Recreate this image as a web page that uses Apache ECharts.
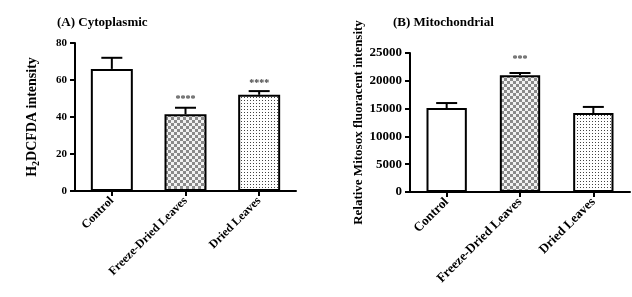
<!DOCTYPE html>
<html>
<head>
<meta charset="utf-8">
<script src="https://cdn.jsdelivr.net/npm/echarts@6/dist/echarts.min.js"></script>
<style>
html,body{margin:0;padding:0;background:#fff;}
#charts{width:632px;height:297px;}
</style>
</head>
<body>
<div id="charts"></div>
<script>
var categories = ['Control', 'Freeze-Dried Leaves', 'Dried Leaves'];
// (A) Cytoplasmic
var cytoMean = [66, 41.5, 52];
var cytoErr = [72, 45, 54];
var cytoSig = ['', '****', '****'];
// (B) Mitochondrial
var mitoMean = [15100, 21000, 14200];
var mitoErr = [16000, 21400, 15300];
var mitoSig = ['', '***', ''];

var FONT = 'Liberation Serif';

//棋盘格填充
function checkerPattern(){
	var c = document.createElement('canvas');
	c.width = 6; c.height = 6;
	var ctx = c.getContext('2d');
	ctx.fillStyle = '#f2f2f2';
	ctx.fillRect(0, 0, 6, 6);
	ctx.fillStyle = '#8a8a8a';
	ctx.fillRect(0, 0, 3, 3);
	ctx.fillRect(3, 3, 3, 3);
	return {image: c, repeat: 'repeat'};
}
//点状填充
function dotPattern(){
	var c = document.createElement('canvas');
	c.width = 3; c.height = 3;
	var ctx = c.getContext('2d');
	ctx.fillStyle = '#ffffff';
	ctx.fillRect(0, 0, 3, 3);
	ctx.fillStyle = '#444';
	ctx.fillRect(1, 1, 1, 1);
	return {image: c, repeat: 'repeat'};
}
var fills = ['#ffffff', checkerPattern(), dotPattern()];

function barData(vals){
	var out = [];
	for(var i=0;i<vals.length;i++){
		out.push({value: vals[i], itemStyle: {color: fills[i]}});
	}
	return out;
}
function errData(mean, err, sig){
	var out = [];
	for(var i=0;i<mean.length;i++){
		out.push([i, mean[i], err[i], sig[i]]);
	}
	return out;
}
function makeErrRender(starGap){
	return function(params, api){
		var base = api.coord([api.value(0), api.value(1)]);
		var top = api.coord([api.value(0), api.value(2)]);
		var half = 10.5;
		var sig = api.value(3);
		var children = [{
			type: 'line',
			shape: {x1: base[0], y1: base[1], x2: top[0], y2: top[1]},
			style: {stroke: '#000', lineWidth: 2}
		},{
			type: 'line',
			shape: {x1: top[0]-half, y1: top[1], x2: top[0]+half, y2: top[1]},
			style: {stroke: '#000', lineWidth: 2}
		}];
		if(sig){
			children.push({
				type: 'text',
				x: top[0], y: top[1]-starGap,
				style: {text: sig, fill: '#444', font: 'bold 10px ' + FONT, align: 'center', verticalAlign: 'middle'}
			});
		}
		return {type: 'group', children: children};
	};
}

function tickLabel(size){
	return {color: '#000', fontFamily: FONT, fontWeight: 'bold', fontSize: size,
		formatter: function(v){ return String(v); }};
}
function catLabel(size){
	return {rotate: 45, margin: 8, color: '#000', fontFamily: FONT, fontWeight: 'bold', fontSize: size, interval: 0};
}
var axisLineStyle = {lineStyle: {color: '#000', width: 2}};
var tickStyle = {show: true, alignWithLabel: true, length: 5, lineStyle: {color: '#000', width: 2}};

var charts = echarts.init(document.getElementById('charts'));
var option = {
	backgroundColor: '#fff',
	animation: false,
	title: [{
		text: '(A) Cytoplasmic', left: 52, top: 11,
		textStyle: {fontFamily: FONT, fontWeight: 'bold', fontSize: 13, color: '#000'}
	},{
		text: '(B) Mitochondrial', left: 388, top: 11,
		textStyle: {fontFamily: FONT, fontWeight: 'bold', fontSize: 13, color: '#000'}
	}],
	grid: [{
		left: 75, top: 43, width: 221, height: 148
	},{
		left: 410, top: 53, width: 220, height: 139
	}],
	xAxis: [{
		gridIndex: 0, type: 'category', data: categories,
		axisLine: axisLineStyle, axisTick: tickStyle,
		axisLabel: catLabel(12)
	},{
		gridIndex: 1, type: 'category', data: categories,
		axisLine: axisLineStyle, axisTick: tickStyle,
		axisLabel: catLabel(13)
	}],
	yAxis: [{
		gridIndex: 0, type: 'value', min: 0, max: 80, interval: 20,
		axisLine: {show: true, lineStyle: {color: '#000', width: 2}},
		axisTick: {show: true, length: 5, lineStyle: {color: '#000', width: 2}},
		axisLabel: tickLabel(11),
		splitLine: {show: false},
		name: '{a|H}{s|2}{a|DCFDA intensity}',
		nameLocation: 'middle', nameGap: 34, nameRotate: 90,
		nameTextStyle: {
			rich: {
				a: {fontFamily: FONT, fontWeight: 'bold', fontSize: 14, color: '#000'},
				s: {fontFamily: FONT, fontWeight: 'bold', fontSize: 10, color: '#000', padding: [7, 0, 0, 0]}
			}
		}
	},{
		gridIndex: 1, type: 'value', min: 0, max: 25000, interval: 5000,
		axisLine: {show: true, lineStyle: {color: '#000', width: 2}},
		axisTick: {show: true, length: 5, lineStyle: {color: '#000', width: 2}},
		axisLabel: tickLabel(13),
		splitLine: {show: false},
		name: 'Relative Mitosox fluoracent intensity',
		nameLocation: 'middle', nameGap: 44, nameRotate: 90,
		nameTextStyle: {fontFamily: FONT, fontWeight: 'bold', fontSize: 13, color: '#000'}
	}],
	series: [{
		type: 'bar', xAxisIndex: 0, yAxisIndex: 0,
		barWidth: '57%',
		data: barData(cytoMean),
		itemStyle: {borderColor: '#000', borderWidth: 2}
	},{
		type: 'custom', xAxisIndex: 0, yAxisIndex: 0,
		data: errData(cytoMean, cytoErr, cytoSig),
		renderItem: makeErrRender(8),
		z: 3
	},{
		type: 'bar', xAxisIndex: 1, yAxisIndex: 1,
		barWidth: '55%',
		data: barData(mitoMean),
		itemStyle: {borderColor: '#000', borderWidth: 2}
	},{
		type: 'custom', xAxisIndex: 1, yAxisIndex: 1,
		data: errData(mitoMean, mitoErr, mitoSig),
		renderItem: makeErrRender(14),
		z: 3
	}]
};
charts.setOption(option);
</script>
</body>
</html>
